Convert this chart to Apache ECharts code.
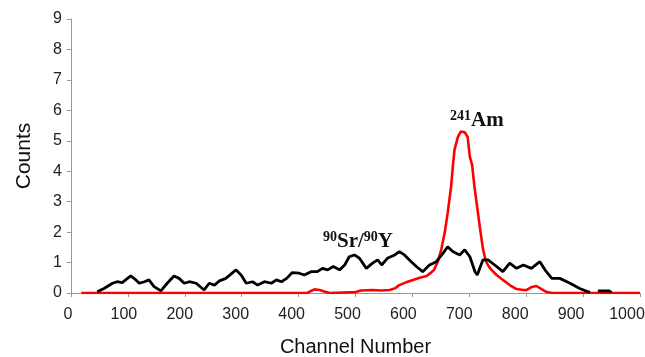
<!DOCTYPE html>
<html>
<head>
<meta charset="utf-8">
<script src="https://cdn.jsdelivr.net/npm/echarts@6/dist/echarts.min.js"></script>
<style>
  html, body { margin: 0; padding: 0; background: #fff; }
  #chart { width: 645px; height: 357px; }
</style>
</head>
<body>
<div id="chart"></div>
<script>
// x tick labels of the channel axis
const xTicks = [0, 100, 200, 300, 400, 500, 600, 700, 800, 900, 1000];

// 90Sr/90Y spectrum (black)
const srX = [46, 58, 73, 81, 90, 96, 105, 114, 120, 129, 137, 146, 158, 169, 181, 190, 199, 208, 220, 234,
  243, 252, 261, 272, 281, 290, 299, 308, 319, 328, 340, 352, 361, 370, 379, 389, 401, 410, 422, 433,
  442, 451, 461, 472, 481, 489, 498, 507, 519, 530, 539, 546, 556, 569, 577, 586, 598, 607, 618, 630,
  642, 654, 662, 671, 683, 692, 701, 710, 714, 724, 733, 748, 759, 771, 783, 795, 809, 824, 833, 845,
  859, 877, 894, 903, 912, 918, 926, 936, 946, 950];
const srY = [0.04, 0.15, 0.32, 0.37, 0.34, 0.43, 0.56, 0.43, 0.32, 0.37, 0.43, 0.21, 0.07, 0.32, 0.56, 0.48, 0.32, 0.37, 0.32, 0.10,
  0.32, 0.26, 0.40, 0.48, 0.62, 0.76, 0.59, 0.32, 0.37, 0.26, 0.37, 0.32, 0.43, 0.37, 0.48, 0.67, 0.65, 0.59, 0.70, 0.70,
  0.81, 0.76, 0.87, 0.76, 0.92, 1.19, 1.25, 1.14, 0.81, 0.98, 1.09, 0.92, 1.14, 1.25, 1.36, 1.25, 1.03, 0.87, 0.70, 0.92,
  1.03, 1.31, 1.52, 1.36, 1.25, 1.42, 1.19, 0.70, 0.59, 1.09, 1.09, 0.87, 0.70, 0.98, 0.81, 0.92, 0.81, 1.03, 0.76, 0.48,
  0.48, 0.32, 0.15, 0.08, 0.02, null, 0.07, 0.07, 0.07, 0.02];

// 241Am spectrum (red)
const amX = [18, 415, 419, 428, 437, 445, 455, 500, 510, 530, 545, 560, 570, 577, 589, 601, 613, 625, 632, 638,
  645, 651, 657, 662, 665, 668, 671, 674, 680, 685, 688, 692, 697, 701, 705, 709, 714, 719, 724, 729,
  735, 739, 748, 759, 771, 783, 795, 801, 810, 818, 827, 836, 845, 1000];
const amY = [0, 0, 0.04, 0.12, 0.10, 0.05, 0, 0.03, 0.08, 0.10, 0.08, 0.10, 0.16, 0.26, 0.35, 0.43, 0.50, 0.56, 0.66, 0.76,
  1.05, 1.45, 2.00, 2.63, 3.06, 3.49, 4.14, 4.70, 5.13, 5.30, 5.36, 5.28, 5.13, 4.47, 4.20, 3.50, 2.80, 2.10, 1.45, 1.05,
  0.85, 0.76, 0.59, 0.43, 0.26, 0.13, 0.10, 0.10, 0.20, 0.23, 0.13, 0.03, 0, 0];

const pairs = (xs, ys) => xs.map((x, i) => [x, ys[i]]);

const chart = echarts.init(document.getElementById('chart'));

const sansFont = 'Liberation Sans, Arial, sans-serif';
const serifFont = 'Liberation Serif, Times New Roman, serif';
const axisFont = { color: '#222', fontSize: 16, fontFamily: sansFont };

// in the original the x labels drift a little left of their ticks, more so to the right
const xLabelRich = {};
xTicks.forEach(v => {
  xLabelRich['t' + v] = Object.assign({ padding: [0, 6 + v / 50, 0, 0] }, axisFont);
});

// rich styles for the isotope labels (superscript mass number + bold symbol)
const isoRich = {
  s: { fontSize: 14, fontWeight: 'bold', fontFamily: serifFont, fill: '#111', lineHeight: 22, verticalAlign: 'top' },
  b: { fontSize: 21, fontWeight: 'bold', fontFamily: serifFont, fill: '#111', lineHeight: 22, verticalAlign: 'bottom' }
};

chart.setOption({
  animation: false,
  grid: { left: 71, right: 5, top: 19, bottom: 64, outerBoundsMode: 'none' },
  xAxis: {
    type: 'value',
    min: 0,
    max: 1000,
    interval: 100,
    name: 'Channel Number',
    nameLocation: 'middle',
    nameGap: 44,
    nameTextStyle: { color: '#111', fontSize: 20, fontFamily: sansFont },
    axisLine: { lineStyle: { color: '#999', width: 1 } },
    axisTick: { show: true, length: 4, lineStyle: { color: '#999' } },
    axisLabel: Object.assign({
      margin: 14,
      formatter: v => xTicks.includes(v) ? '{t' + v + '|' + v + '}' : '',
      rich: xLabelRich
    }, axisFont),
    splitLine: { show: false }
  },
  yAxis: {
    type: 'value',
    min: 0,
    max: 9,
    interval: 1,
    name: 'Counts',
    nameLocation: 'middle',
    nameGap: 36,
    nameTextStyle: { color: '#111', fontSize: 21, fontFamily: sansFont },
    axisLine: { show: true, lineStyle: { color: '#999', width: 1 } },
    axisTick: { show: true, length: 4, lineStyle: { color: '#999' } },
    axisLabel: Object.assign({ margin: 9 }, axisFont),
    splitLine: { show: false }
  },
  series: [
    {
      name: '241Am',
      type: 'line',
      data: pairs(amX, amY),
      showSymbol: false,
      lineStyle: { color: '#ff0000', width: 2.6 },
      z: 2
    },
    {
      name: '90Sr/90Y',
      type: 'line',
      data: pairs(srX, srY),
      showSymbol: false,
      connectNulls: false,
      lineStyle: { color: '#000', width: 2.8 },
      z: 3
    }
  ],
  graphic: [
    {
      type: 'text',
      left: 323,
      top: 230,
      style: { text: '{s|90}{b|Sr/}{s|90}{b|Y}', rich: isoRich }
    },
    {
      type: 'text',
      left: 450,
      top: 109,
      style: { text: '{s|241}{b|Am}', rich: isoRich }
    }
  ]
});
</script>
</body>
</html>
